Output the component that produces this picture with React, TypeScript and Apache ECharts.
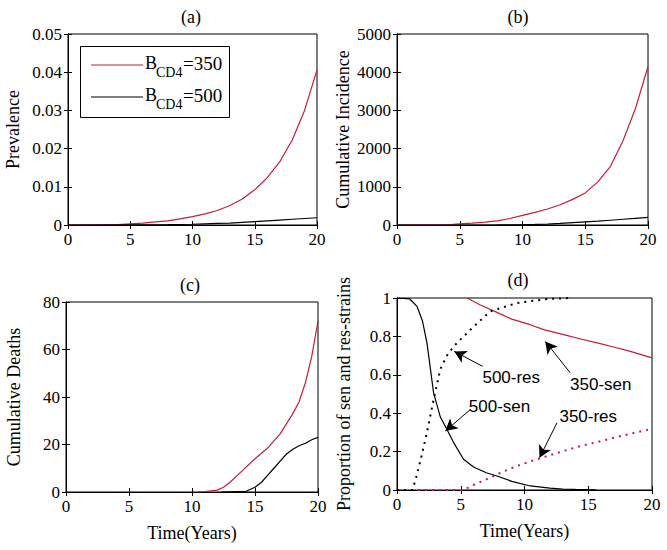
import React, { useEffect, useRef } from "react";
import * as echarts from "echarts";

// ---------- data ----------
const xTicks = [0, 5, 10, 15, 20];

// (a) Prevalence
const prev350: number[][] = [[0, 0], [2, 0.00002], [4, 0.0001], [5, 0.0003], [6, 0.0005], [7, 0.0008], [8, 0.0011], [9, 0.0016], [10, 0.0022], [11, 0.0029], [12, 0.0038], [13, 0.0051], [14, 0.0068], [15, 0.0092], [16, 0.0124], [17, 0.0165], [18, 0.0222], [19, 0.03], [20, 0.0406]];
const prev500: number[][] = [[0, 0], [5, 0.00005], [8, 0.0001], [10, 0.0002], [11, 0.0003], [12, 0.0004], [13, 0.0005], [14, 0.0007], [15, 0.0009], [16, 0.0011], [17, 0.0013], [18, 0.0015], [19, 0.0017], [20, 0.0019]];

// (b) Cumulative incidence
const inc350: number[][] = [[0, 0], [4, 5], [5, 30], [6, 50], [7, 75], [8, 110], [9, 170], [10, 250], [11, 330], [12, 420], [13, 530], [14, 670], [15, 840], [16, 1130], [17, 1530], [18, 2200], [19, 3050], [20, 4150]];
const inc500: number[][] = [[0, 0], [8, 2], [10, 8], [11, 15], [12, 25], [13, 40], [14, 60], [15, 80], [16, 100], [17, 125], [18, 150], [19, 175], [20, 200]];

// (c) Cumulative deaths
const death350: number[][] = [[10.5, 0], [11, 0.2], [12, 0.8], [12.5, 2], [13, 4], [14, 9], [15, 14], [16, 18.5], [17, 24.5], [18, 33], [18.5, 38], [19, 46], [19.5, 57], [20, 72]];
const death500: number[][] = [[12.3, 0], [14.3, 0.3], [15, 2], [15.5, 4], [16, 7], [16.5, 10], [17, 13], [17.5, 16], [18, 18], [18.5, 19.5], [19, 20.5], [19.5, 22], [20, 23]];

// (d) Proportion of sensitive and resistant strains
const sen500: number[][] = [[0, 1], [1, 0.995], [1.57, 0.956], [2, 0.88], [2.35, 0.766], [2.87, 0.506], [3.4, 0.38], [3.92, 0.315], [4.5, 0.24], [5.22, 0.16], [6, 0.12], [7, 0.09], [7.84, 0.073], [9, 0.045], [10.45, 0.021], [12, 0.01], [13, 0.005], [14, 0.003], [15.6, 0.001]];
const res500: number[][] = [[0, 0], [1.2, 0], [1.43, 0.047], [1.9, 0.17], [2.35, 0.3], [2.87, 0.47], [3.4, 0.63], [4, 0.71], [4.7, 0.766], [6, 0.85], [7.3, 0.93], [9.4, 0.974], [11.8, 0.995], [13.6, 1]];
const sen350: number[][] = [[5.5, 1], [6.5, 0.965], [7.84, 0.925], [9, 0.89], [10.45, 0.861], [11.5, 0.835], [13.07, 0.809], [14.5, 0.785], [15.7, 0.766], [17, 0.745], [18.3, 0.722], [20, 0.688]];
const res350: number[][] = [[0, 0], [5, 0], [5.5, 0.01], [6.3, 0.035], [7.3, 0.064], [8.3, 0.095], [9.4, 0.125], [10.6, 0.152], [11.8, 0.177], [13.1, 0.204], [14.4, 0.229], [15.7, 0.25], [17, 0.272], [18.5, 0.296], [20, 0.319]];

// annotations in (d): label, label position, arrow start, arrow tip
const annLabels = ["500-res", "350-sen", "500-sen", "350-res"];
const annText: number[][] = [[8.96, 0.584], [15.98, 0.549], [8.04, 0.437], [15.0, 0.385]];
const annFrom: number[][] = [[6.72, 0.644], [13.59, 0.61], [5.75, 0.419], [12.55, 0.35]];
const annTo: number[][] = [[4.49, 0.722], [11.63, 0.774], [3.79, 0.307], [11.18, 0.168]];

const panelTitles = ["(a)", "(b)", "(c)", "(d)"];
const yNames = ["Prevalence", "Cumulative Incidence", "Cumulative Deaths", "Proportion of sen and res-strains"];
const yMax = [0.05, 5000, 80, 1];
const yInterval = [0.01, 1000, 20, 0.2];

const RED = "#c41e3a";
const SERIF = "Liberation Serif";
const SANS = "Liberation Sans";

export default function App() {
  const ref = useRef<HTMLDivElement>(null);

  useEffect(() => {
    if (!ref.current) return;
    const chart = echarts.init(ref.current, undefined, { renderer: "svg" });

    const grids = [
      { left: 68, top: 34, width: 249, height: 191 },
      { left: 397, top: 34, width: 251, height: 191 },
      { left: 66, top: 302, width: 252, height: 190 },
      { left: 397, top: 298, width: 255, height: 192 },
    ];
    const yNameGap = [46, 45, 43, 44];

    const tick = { show: true, inside: true, length: 4, lineStyle: { color: "#000", width: 1 } };
    const labelStyle = { color: "#000", fontFamily: SERIF, fontSize: 17, fontWeight: "normal" };

    const xAxes: any[] = [];
    const yAxes: any[] = [];
    grids.forEach((_, i) => {
      xAxes.push({
        type: "value", gridIndex: i, min: 0, max: 20, interval: 5, position: "bottom",
        axisLine: { show: true, lineStyle: { color: "#000" } }, axisTick: tick, splitLine: { show: false },
        axisLabel: { ...labelStyle, margin: 6, formatter: (v: number) => String(v) },
        name: i >= 2 ? "Time(Years)" : "", nameLocation: "middle", nameGap: 41, nameMoveOverlap: false,
        nameTextStyle: { color: "#000", fontFamily: SERIF, fontSize: 18, fontWeight: "normal", verticalAlign: "middle" },
      });
      xAxes.push({
        type: "value", gridIndex: i, min: 0, max: 20, interval: 5, position: "top",
        axisLine: { show: true, lineStyle: { color: "#000" } }, axisTick: tick, splitLine: { show: false },
        axisLabel: { show: false },
      });
      yAxes.push({
        type: "value", gridIndex: i, min: 0, max: yMax[i], interval: yInterval[i], position: "left",
        axisLine: { show: true, lineStyle: { color: "#000" } }, axisTick: tick, splitLine: { show: false },
        axisLabel: { ...labelStyle, margin: 6, formatter: (v: number) => String(v) },
        name: yNames[i], nameLocation: "middle", nameGap: yNameGap[i], nameMoveOverlap: false,
        nameTextStyle: { color: "#000", fontFamily: SERIF, fontSize: 18, fontWeight: "normal" },
      });
      yAxes.push({
        type: "value", gridIndex: i, min: 0, max: yMax[i], interval: yInterval[i], position: "right",
        axisLine: { show: true, lineStyle: { color: "#000" } }, axisTick: tick, splitLine: { show: false },
        axisLabel: { show: false },
      });
    });

    const line = (data: number[][], gi: number, color: string, dotted = false, extra: any = {}) => ({
      type: "line", xAxisIndex: gi * 2, yAxisIndex: gi * 2, data, showSymbol: false, symbol: "none",
      lineStyle: dotted ? { color, width: 2, type: [2, 5] } : { color, width: 1.2 },
      clip: true, silent: true, ...extra,
    });

    const arrows = annFrom.map((f, k) => [
      { coord: f, symbol: "none" },
      { coord: annTo[k], symbol: "arrow" },
    ]);
    const labels = annText.map((p, k) => ({
      coord: p, value: annLabels[k],
    }));

    const series: any[] = [
      line(prev350, 0, RED), line(prev500, 0, "#000"),
      line(inc350, 1, RED), line(inc500, 1, "#000"),
      line(death350, 2, RED), line(death500, 2, "#000"),
      line(res350, 3, RED, true),
      line(sen350, 3, RED),
      line(res500, 3, "#000", true),
      line(sen500, 3, "#000", false, {
        markLine: {
          silent: true, symbol: ["none", "arrow"], symbolSize: [10, 12],
          lineStyle: { color: "#000", width: 1, type: "solid" },
          label: { show: false }, data: arrows,
        },
        markPoint: {
          silent: true, symbol: "circle", symbolSize: 1,
          itemStyle: { color: "rgba(0,0,0,0)" },
          label: {
            show: true, position: "inside", color: "#000", fontFamily: SANS, fontSize: 17,
            formatter: (p: any) => p.value,
          },
          data: labels,
        },
      }),
    ];

    const titlePos = [[191, 17], [518, 17], [190, 285], [518, 280]];
    const graphic: any[] = titlePos.map((p, i) => ({
      type: "text", x: p[0], y: p[1], silent: true,
      style: { text: panelTitles[i], fill: "#000", font: `18px ${SERIF}`, textAlign: "center", textVerticalAlign: "middle", align: "center", verticalAlign: "middle" },
    }));
    // legend of panel (a)
    graphic.push({ type: "rect", shape: { x: 80.5, y: 46.5, width: 149, height: 71 }, style: { fill: "#fff", stroke: "#000", lineWidth: 1 }, z: 10 });
    const legItems = [
      { color: RED, text: "=350", y: 65 },
      { color: "#000", text: "=500", y: 97 },
    ];
    legItems.forEach((it) => {
      graphic.push({ type: "line", shape: { x1: 91, y1: it.y, x2: 143, y2: it.y }, style: { stroke: it.color, lineWidth: 1.2 }, z: 11 });
      graphic.push({ type: "text", x: 145, y: it.y - 2, z: 11, style: { text: "B", fill: "#000", font: `18px ${SERIF}`, textVerticalAlign: "middle", verticalAlign: "middle" } });
      graphic.push({ type: "text", x: 156, y: it.y + 7, z: 11, style: { text: "CD4", fill: "#000", font: `14px ${SERIF}`, textVerticalAlign: "middle", verticalAlign: "middle" } });
      graphic.push({ type: "text", x: 183, y: it.y - 2, z: 11, style: { text: it.text, fill: "#000", font: `19px ${SERIF}`, textVerticalAlign: "middle", verticalAlign: "middle" } });
    });

    chart.setOption({
      animation: false,
      backgroundColor: "#fff",
      textStyle: { fontFamily: SERIF, fontWeight: "normal" },
      grid: grids.map((g) => ({ ...g, show: true, borderColor: "#000", borderWidth: 1, backgroundColor: "#fff" })),
      xAxis: xAxes,
      yAxis: yAxes,
      series,
      graphic,
    });

    return () => chart.dispose();
  }, []);

  return (
    <div
      ref={ref}
      style={{ position: "absolute", left: 0, top: 0, width: 667, height: 550, background: "#fff" }}
    />
  );
}
